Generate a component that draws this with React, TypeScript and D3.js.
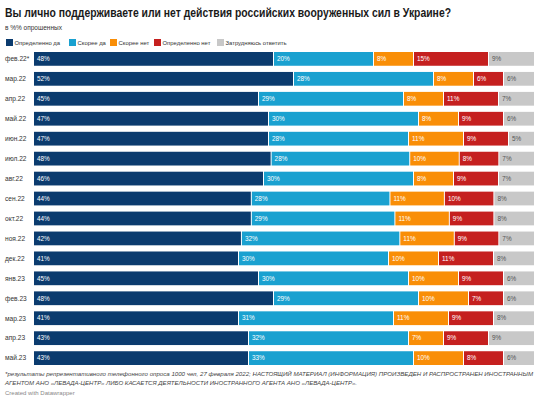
import { useEffect, useRef } from "react";
import * as d3 from "d3";

const months = [
  "фев.22*", "мар.22", "апр.22", "май.22", "июн.22", "июл.22", "авг.22", "сен.22",
  "окт.22", "ноя.22", "дек.22", "янв.23", "фев.23", "мар.23", "апр.23", "май.23",
];
const definitelyYes = [48, 52, 45, 47, 47, 48, 46, 44, 44, 42, 41, 45, 48, 41, 43, 43];
const ratherYes = [20, 28, 29, 30, 28, 28, 30, 28, 29, 32, 30, 30, 29, 31, 32, 33];
const ratherNo = [8, 8, 8, 8, 11, 10, 8, 11, 11, 11, 10, 10, 10, 11, 7, 10];
const definitelyNo = [15, 6, 11, 9, 9, 8, 9, 10, 9, 9, 11, 9, 7, 9, 9, 8];
const hardToSay = [9, 6, 7, 6, 5, 7, 7, 8, 8, 7, 8, 6, 6, 8, 9, 6];

const seriesNames = ["Определенно да", "Скорее да", "Скорее нет", "Определенно нет", "Затрудняюсь ответить"];
const seriesColors = ["#0b3b6e", "#1aa1d0", "#f98e07", "#c5201f", "#c8c8c8"];
const labelColors = ["#ffffff", "#ffffff", "#ffffff", "#ffffff", "#555555"];

const W = 540;
const H = 401;
const FONT = "'Liberation Sans', Arial, sans-serif";

export default function App() {
  const svgRef = useRef<SVGSVGElement>(null);

  useEffect(() => {
    if (!svgRef.current) return;
    const svg = d3.select(svgRef.current);
    svg.selectAll("*").remove();

    svg.append("rect").attr("width", W).attr("height", H).attr("fill", "#fff");

    // header
    svg.append("text")
      .attr("x", 5).attr("y", 17)
      .attr("font-family", FONT).attr("font-weight", 700).attr("font-size", 12.6)
      .attr("fill", "#1a1a1a")
      .attr("textLength", 446).attr("lengthAdjust", "spacingAndGlyphs")
      .text("Вы лично поддерживаете или нет действия российских вооруженных сил в Украине?");
    svg.append("text")
      .attr("x", 5).attr("y", 30)
      .attr("font-family", FONT).attr("font-size", 6.5).attr("fill", "#333")
      .text("в %% опрошенных");

    // legend
    const legend = svg.append("g").attr("transform", "translate(5,39)");
    const legendX = [1, 64, 105, 149, 212];
    seriesNames.forEach((name, i) => {
      const g = legend.append("g").attr("transform", `translate(${legendX[i]},0)`);
      g.append("rect").attr("width", 7).attr("height", 7).attr("fill", seriesColors[i]);
      g.append("text")
        .attr("x", 8.5).attr("y", 6)
        .attr("font-family", FONT).attr("font-size", 5.9).attr("fill", "#333")
        .text(name);
    });

    // data table for stacking
    const rows = months.map((m, i) => ({
      month: m,
      s0: definitelyYes[i],
      s1: ratherYes[i],
      s2: ratherNo[i],
      s3: definitelyNo[i],
      s4: hardToSay[i],
    }));
    const keys = ["s0", "s1", "s2", "s3", "s4"];
    const stacked = d3.stack<any>().keys(keys).offset(d3.stackOffsetExpand)(rows);

    const x = d3.scaleLinear().domain([0, 1]).range([34, 534]);
    const y = d3.scaleBand().domain(months).range([52, 365]).paddingInner(0.31).paddingOuter(0);

    // row labels
    svg.append("g").selectAll("text")
      .data(months)
      .join("text")
      .attr("x", 5)
      .attr("y", (d) => (y(d) ?? 0) + y.bandwidth() / 2)
      .attr("dy", "0.35em")
      .attr("font-family", FONT).attr("font-size", 6.6).attr("fill", "#333")
      .text((d) => d);

    stacked.forEach((layer, li) => {
      const g = svg.append("g");
      g.selectAll("rect")
        .data(layer)
        .join("rect")
        .attr("x", (d) => x(d[0]))
        .attr("y", (d) => y(d.data.month) ?? 0)
        .attr("width", (d) => Math.max(0, x(d[1]) - x(d[0]) - (li < 4 ? 1 : 0)))
        .attr("height", y.bandwidth())
        .attr("fill", seriesColors[li]);
      g.selectAll("text")
        .data(layer)
        .join("text")
        .attr("x", (d) => x(d[0]) + 3)
        .attr("y", (d) => (y(d.data.month) ?? 0) + y.bandwidth() / 2)
        .attr("dy", "0.35em")
        .attr("font-family", FONT).attr("font-size", 6.4)
        .attr("fill", labelColors[li])
        .text((d) => `${d.data[keys[li]]}%`);
    });

    // footer
    const notes = [
      "*результаты репрезентативного телефонного опроса 1000 чел, 27 февраля 2022; НАСТОЯЩИЙ МАТЕРИАЛ (ИНФОРМАЦИЯ) ПРОИЗВЕДЕН И РАСПРОСТРАНЕН ИНОСТРАННЫМ",
      "АГЕНТОМ АНО «ЛЕВАДА-ЦЕНТР» ЛИБО КАСАЕТСЯ ДЕЯТЕЛЬНОСТИ ИНОСТРАННОГО АГЕНТА АНО «ЛЕВАДА-ЦЕНТР».",
    ];
    const noteLengths = [528, 352];
    notes.forEach((n, i) => {
      svg.append("text")
        .attr("x", 5).attr("y", 376 + i * 8.6)
        .attr("font-family", FONT).attr("font-size", 6).attr("font-style", "italic")
        .attr("fill", "#444")
        .attr("textLength", noteLengths[i])
        .attr("lengthAdjust", "spacingAndGlyphs")
        .text(n);
    });
    svg.append("text")
      .attr("x", 5).attr("y", 395)
      .attr("font-family", FONT).attr("font-size", 6).attr("fill", "#888")
      .text("Created with Datawrapper");
  }, []);

  return (
    <svg
      ref={svgRef}
      width={W}
      height={H}
      style={{ position: "absolute", left: 0, top: 0, display: "block" }}
    />
  );
}
